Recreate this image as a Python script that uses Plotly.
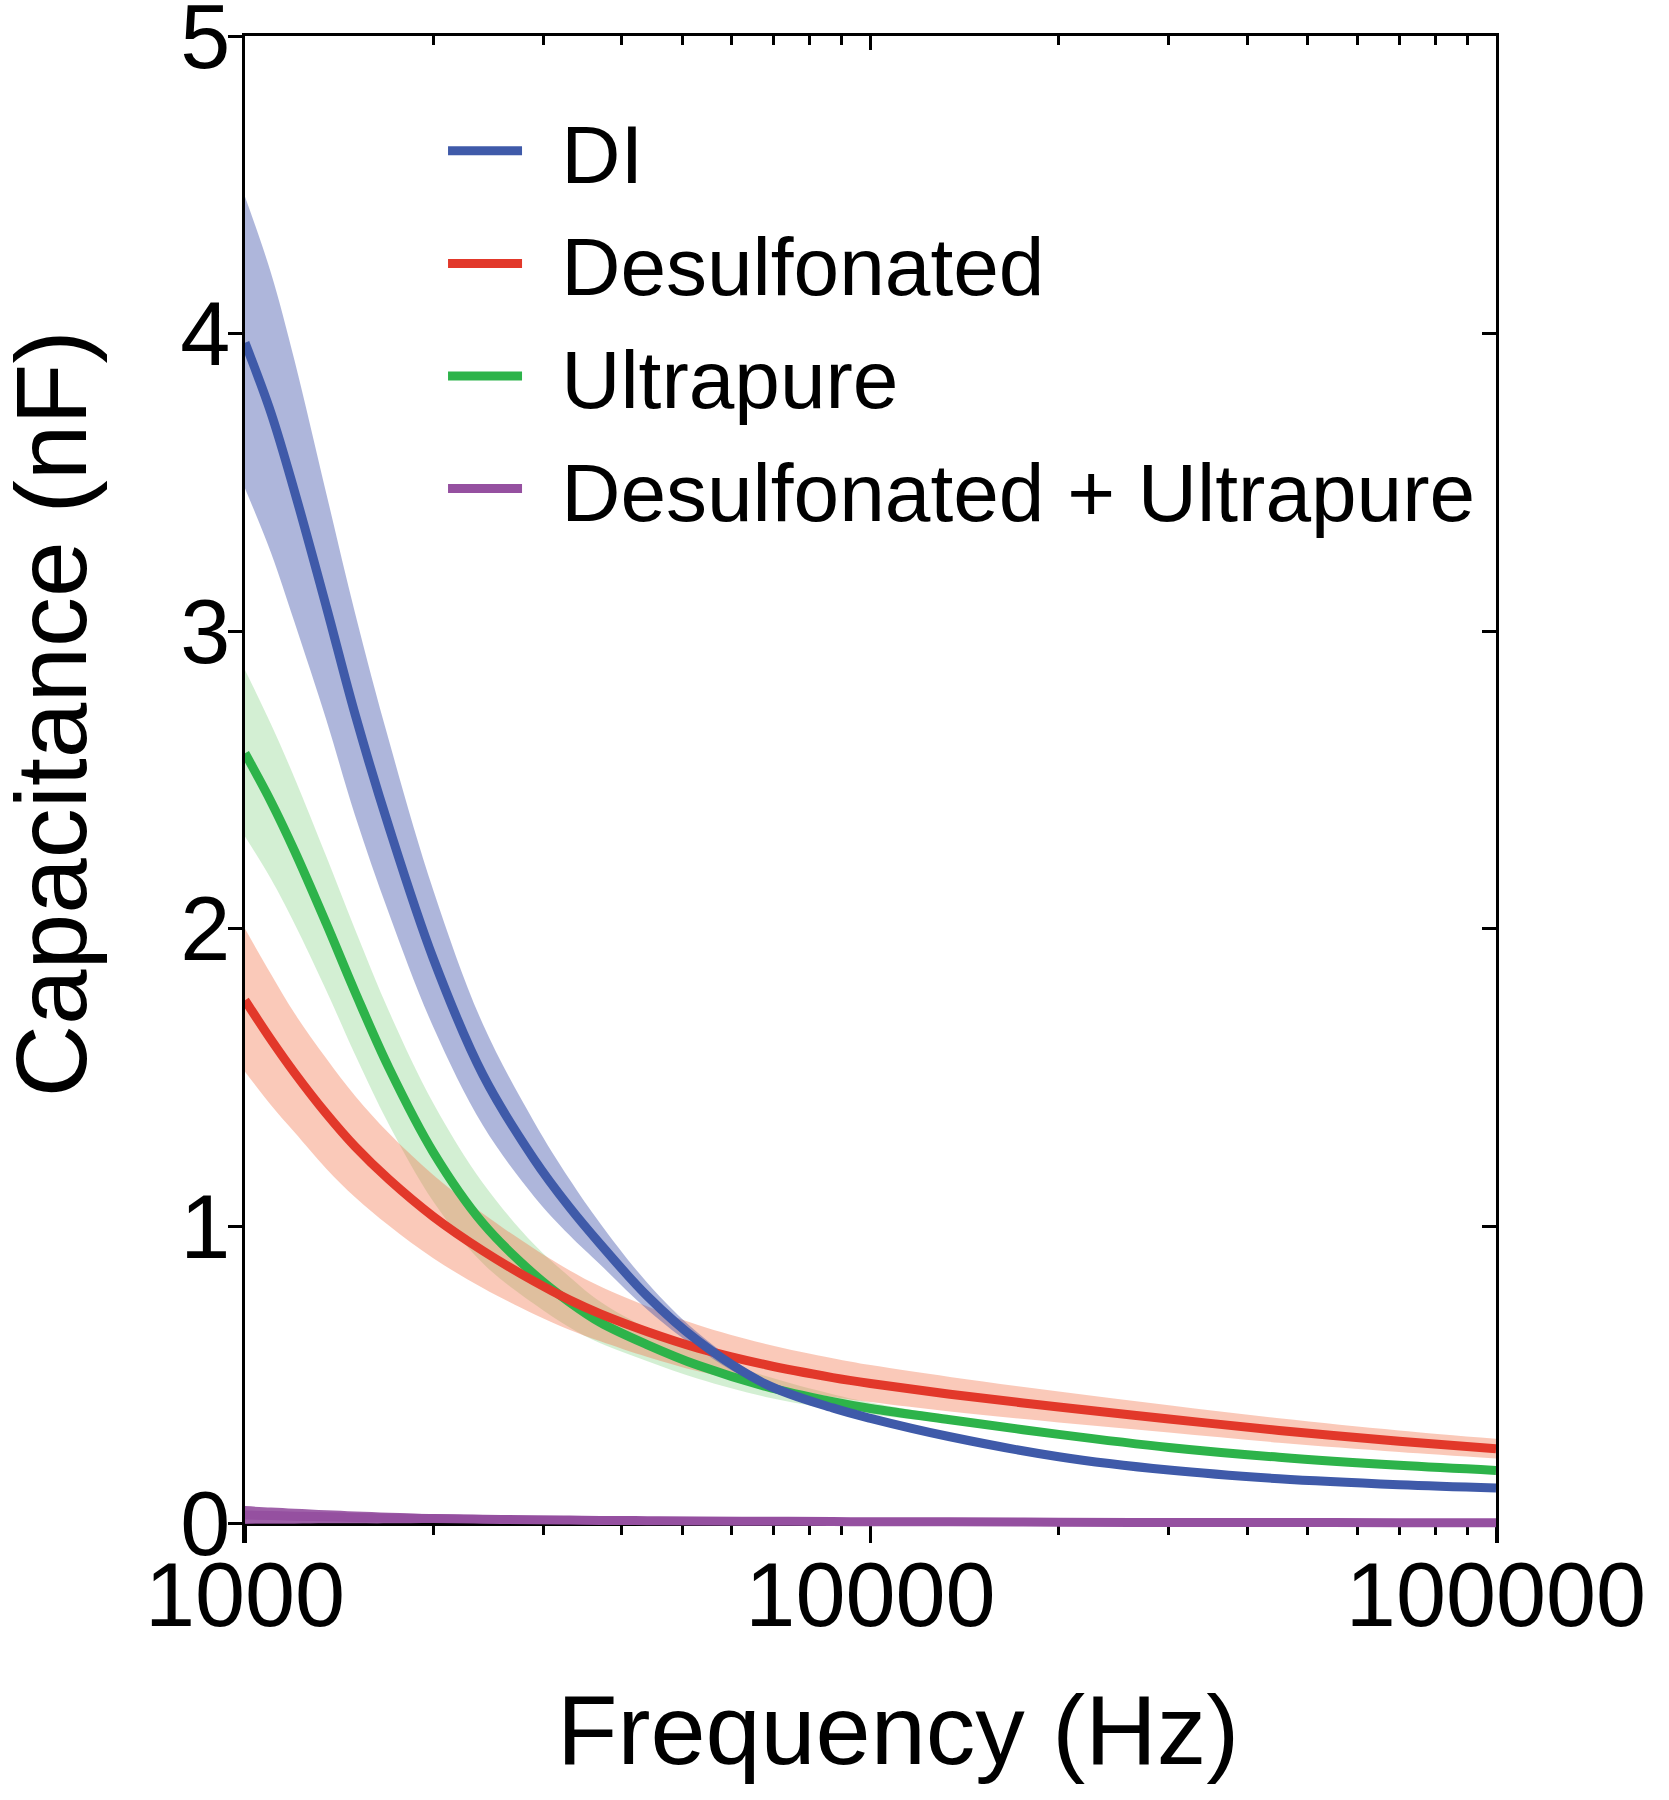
import plotly.graph_objects as go

# ---------------- data ----------------
freq = [1000, 1100, 1200, 1350, 1500, 1700, 2000, 2400, 2900, 3300, 3700,
        4400, 5300, 6800, 8700, 10000, 13400, 20000, 30000, 45000, 70000, 100000]

di_mean = [3.97, 3.735, 3.47, 3.08, 2.72, 2.34, 1.90, 1.51, 1.225, 1.065, 0.94,
           0.765, 0.615, 0.47, 0.39, 0.355, 0.293, 0.226, 0.181, 0.152, 0.132, 0.121]
di_sd = [0.49, 0.47, 0.44, 0.38, 0.34, 0.29, 0.23, 0.17, 0.125, 0.094, 0.069,
         0.045, 0.027, 0.014, 0.008, 0.005, 0.003, 0.002, 0.002, 0.002, 0.002, 0.002]

desulf_mean = [1.76, 1.628, 1.516, 1.378, 1.268, 1.157, 1.033, 0.918, 0.815, 0.753, 0.706,
               0.646, 0.591, 0.535, 0.492, 0.472, 0.436, 0.393, 0.353, 0.314, 0.278, 0.253]
desulf_sd = [0.24, 0.22, 0.20, 0.185, 0.17, 0.155, 0.14, 0.125, 0.11, 0.10, 0.092,
             0.085, 0.078, 0.07, 0.065, 0.062, 0.058, 0.052, 0.046, 0.041, 0.036, 0.033]

ultra_mean = [2.59, 2.428, 2.262, 2.016, 1.787, 1.531, 1.249, 1.011, 0.839, 0.746, 0.677,
              0.602, 0.533, 0.462, 0.411, 0.388, 0.35, 0.301, 0.257, 0.224, 0.197, 0.180]
ultra_sd = [0.28, 0.26, 0.245, 0.225, 0.21, 0.19, 0.165, 0.135, 0.10, 0.085, 0.07,
            0.055, 0.045, 0.035, 0.025, 0.02, 0.012, 0.008, 0.006, 0.006, 0.006, 0.006]

combo_mean = [0.03, 0.028, 0.026, 0.024, 0.022, 0.02, 0.018, 0.016, 0.014, 0.013, 0.012,
              0.011, 0.01, 0.009, 0.008, 0.007, 0.007, 0.006, 0.005, 0.005, 0.004, 0.004]
combo_sd = [0.03, 0.027, 0.025, 0.022, 0.02, 0.018, 0.015, 0.013, 0.011, 0.01, 0.009,
            0.008, 0.007, 0.006, 0.005, 0.005, 0.004, 0.004, 0.003, 0.003, 0.003, 0.003]

series_names = ["DI", "Desulfonated", "Ultrapure", "Desulfonated + Ultrapure"]

x_tickvals = [1000, 10000, 100000]
x_ticktext = ["1000", "10000", "100000"]
x_minor_vals = [2000, 3000, 4000, 5000, 6000, 7000, 8000, 9000,
                20000, 30000, 40000, 50000, 60000, 70000, 80000, 90000]
y_tickvals = [0, 1, 2, 3, 4, 5]
y_right_tickvals = [1, 2, 3, 4]
y_min, y_max = -0.064, 5.0005

# ---------------- styling ----------------
FONT = "Liberation Sans, Arial, Helvetica, sans-serif"
line_colors = ["#3F5AA9", "#E2382A", "#2DB34A", "#9550A0"]
band_colors = ["rgba(63,80,170,0.42)", "rgba(243,120,80,0.40)",
               "rgba(80,190,80,0.25)", "rgba(149,80,160,0.90)"]
means = [di_mean, desulf_mean, ultra_mean, combo_mean]
sds = [di_sd, desulf_sd, ultra_sd, combo_sd]

fig = go.Figure()

# invisible trace so that the mirror axes (top / right) are drawn
fig.add_trace(go.Scatter(x=freq, y=di_mean, xaxis="x2", yaxis="y2", mode="lines",
                         opacity=0, showlegend=False, hoverinfo="skip"))

# shaded bands (green, red, blue, purple)
for i in [2, 1, 0, 3]:
    upper = [m + s for m, s in zip(means[i], sds[i])]
    lower = [m - s for m, s in zip(means[i], sds[i])]
    fig.add_trace(go.Scatter(x=freq, y=upper, mode="lines",
                             line=dict(width=0, shape="spline", smoothing=1),
                             showlegend=False, hoverinfo="skip"))
    fig.add_trace(go.Scatter(x=freq, y=lower, mode="lines",
                             line=dict(width=0, shape="spline", smoothing=1),
                             fill="tonexty", fillcolor=band_colors[i],
                             showlegend=False, hoverinfo="skip"))

# mean lines (purple, green, red, blue on top)
for i in [3, 2, 1, 0]:
    fig.add_trace(go.Scatter(x=freq, y=means[i], mode="lines",
                             name="\u2005\u2006" + series_names[i],
                             legendrank=i + 1, legendgroup=series_names[i],
                             line=dict(color=line_colors[i], width=9,
                                       shape="spline", smoothing=1)))

axis_common = dict(showline=True, linecolor="black", linewidth=2.5, showgrid=False,
                   zeroline=False, tickcolor="black", tickwidth=2.5, automargin=False)

y_zero_pos = (0 - y_min) / (y_max - y_min)

fig.update_layout(
    width=1669, height=1800,
    margin=dict(l=245, r=173, t=36, b=257, autoexpand=False),
    paper_bgcolor="white", plot_bgcolor="white",
    font=dict(family=FONT, color="black"),
    xaxis=dict(type="log", range=[3, 5], anchor="free", position=y_zero_pos,
               tickvals=x_tickvals, ticktext=x_ticktext, ticks="outside", ticklen=17,
               ticklabelstandoff=-25, ticklabeloverflow="allow",
               tickfont=dict(size=90, family=FONT, color="black"),
               minor=dict(tickvals=x_minor_vals, ticks="outside", ticklen=9,
                          tickwidth=2.5, tickcolor="black", showgrid=False),
               layer="below traces", **axis_common),
    xaxis2=dict(type="log", range=[3, 5], overlaying="x", side="top", anchor="y",
                tickvals=x_tickvals, ticks="inside", ticklen=14, showticklabels=False,
                minor=dict(tickvals=x_minor_vals, ticks="inside", ticklen=9,
                           tickwidth=2.5, tickcolor="black", showgrid=False),
                **axis_common),
    yaxis=dict(range=[y_min, y_max], tickvals=y_tickvals, ticks="outside", ticklen=14,
               ticklabelstandoff=-20, ticklabeloverflow="allow",
               tickfont=dict(size=90, family=FONT, color="black"), **axis_common),
    yaxis2=dict(range=[y_min, y_max], overlaying="y", side="right", anchor="x",
                tickvals=y_right_tickvals, ticks="inside", ticklen=14,
                showticklabels=False, **axis_common),
    legend=dict(x=0.1583, y=0.9635, xanchor="left", yanchor="top",
                font=dict(size=82, family=FONT, color="black"),
                itemwidth=74, tracegroupgap=3, bgcolor="rgba(0,0,0,0)",
                traceorder="grouped"),
    annotations=[
        dict(text="Capacitance (nF)", xref="paper", yref="paper", x=-0.155, y=0.55,
             xanchor="center", yanchor="middle", textangle=-90, showarrow=False,
             font=dict(size=100, family=FONT, color="black")),
        dict(text="Frequency (Hz)", xref="paper", yref="paper", x=0.522, y=-0.124,
             xanchor="center", yanchor="middle", showarrow=False,
             font=dict(size=99, family=FONT, color="black")),
    ],
    showlegend=True,
)

fig.write_html("out.html", config={"displayModeBar": False},
               post_script="document.body.style.margin='0';")
